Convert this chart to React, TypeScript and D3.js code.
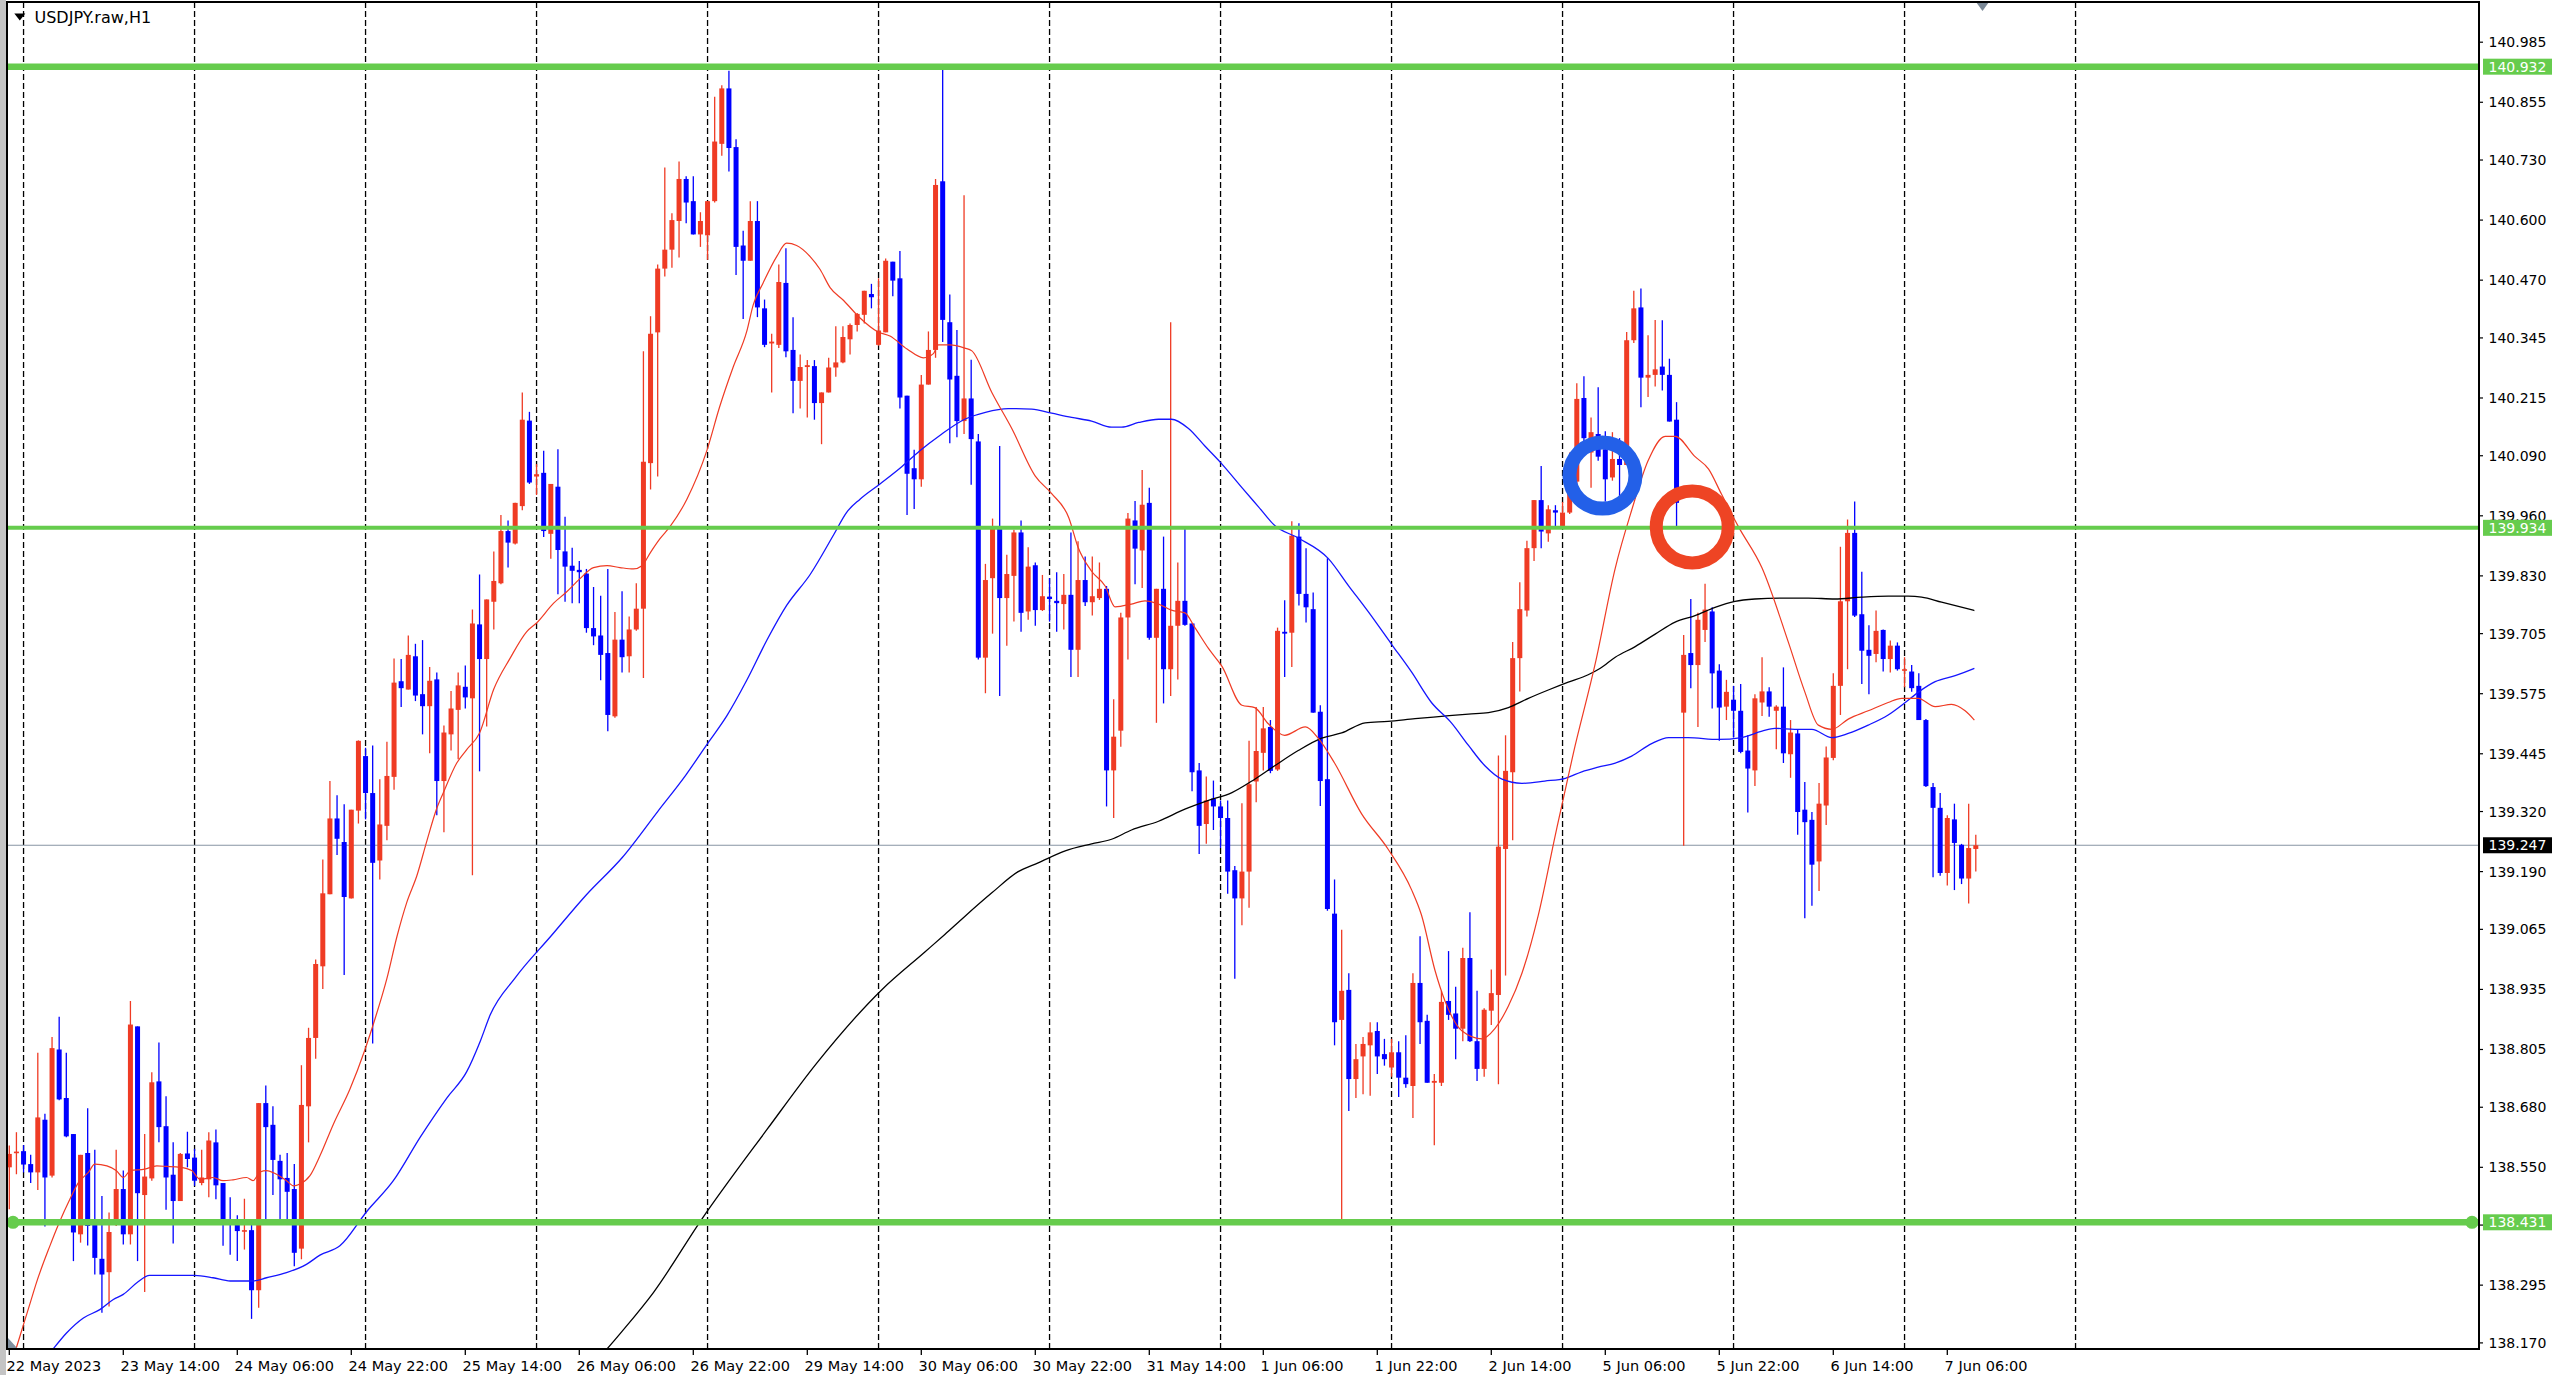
import React, { useMemo } from 'react';
import * as d3 from 'd3';

// USDJPY H1 bars, first bar = 22 May 2023 22:00
const opens = [
  138.550, 138.581, 138.585, 138.557, 138.539, 138.653, 138.532, 138.805, 138.700, 138.622,
  138.405, 138.581, 138.427, 138.352, 138.323, 138.430, 138.503, 138.405, 138.855, 138.490,
  138.526, 138.736, 138.639, 138.534, 138.477, 138.580, 138.571, 138.516, 138.524, 138.604,
  138.516, 138.438, 138.436, 138.412, 138.414, 138.284, 138.689, 138.642, 138.564, 138.527,
  138.503, 138.374, 138.682, 138.830, 138.985, 139.141, 139.305, 139.254, 139.132, 139.322,
  139.440, 139.360, 139.214, 139.289, 139.395, 139.602, 139.584, 139.656, 139.574, 139.548,
  139.606, 139.386, 139.487, 139.540, 139.590, 139.565, 139.725, 139.650, 139.774, 139.814,
  139.927, 139.900, 139.981, 140.166, 140.045, 140.053, 139.921, 140.023, 139.883, 139.852,
  139.843, 139.835, 139.717, 139.701, 139.663, 139.526, 139.692, 139.656, 139.714, 139.759,
  140.074, 140.357, 140.495, 140.536, 140.598, 140.689, 140.641, 140.569, 140.567, 140.641,
  140.765, 140.885, 140.758, 140.545, 140.512, 140.598, 140.409, 140.333, 140.330, 140.464,
  140.319, 140.252, 140.282, 140.284, 140.204, 140.227, 140.281, 140.292, 140.342, 140.373,
  140.395, 140.440, 140.330, 140.357, 140.510, 140.474, 140.220, 140.063, 140.039, 140.244,
  140.319, 140.684, 140.379, 140.263, 140.165, 140.214, 140.121, 139.653, 139.825, 139.933,
  139.782, 139.830, 139.924, 139.753, 139.853, 139.756, 139.785, 139.776, 139.769, 139.789,
  139.670, 139.821, 139.773, 139.782, 139.802, 139.409, 139.495, 139.740, 139.950, 139.885,
  139.988, 139.696, 139.802, 139.628, 139.722, 139.776, 139.727, 139.409, 139.293, 139.348,
  139.331, 139.306, 139.193, 139.132, 139.190, 139.385, 139.447, 139.503, 139.411, 139.709,
  139.707, 139.915, 139.791, 139.758, 139.536, 139.390, 139.099, 138.869, 138.934, 138.741,
  138.790, 138.814, 138.845, 138.795, 138.766, 138.799, 138.744, 138.726, 138.949, 138.867,
  138.733, 138.733, 138.910, 138.883, 138.850, 139.003, 138.823, 138.763, 138.889, 138.923,
  139.239, 139.405, 139.652, 139.755, 139.890, 139.994, 139.922, 139.972, 139.938, 139.967,
  140.034, 140.215, 140.097, 140.137, 140.104, 140.043, 140.083, 140.070, 140.340, 140.411,
  140.259, 140.265, 140.283, 140.265, 140.168, 139.534, 139.663, 139.637, 139.713, 139.753,
  139.625, 139.547, 139.562, 139.538, 139.452, 139.409, 139.556, 139.580, 139.538, 139.547,
  139.444, 139.489, 139.324, 139.302, 139.212, 139.333, 139.436, 139.592, 139.775, 139.923,
  139.747, 139.670, 139.661, 139.713, 139.650, 139.679, 139.625, 139.623, 139.592, 139.518,
  139.373, 139.328, 139.187, 139.303, 139.248, 139.175, 139.239,
];

const highs = [
  138.597, 138.626, 138.598, 138.577, 138.798, 138.666, 138.832, 138.876, 138.798, 138.622,
  138.577, 138.678, 138.588, 138.488, 138.452, 138.588, 138.543, 138.910, 138.855, 138.622,
  138.756, 138.820, 138.704, 138.604, 138.581, 138.627, 138.590, 138.588, 138.626, 138.632,
  138.516, 138.485, 138.446, 138.482, 138.438, 138.689, 138.727, 138.682, 138.577, 138.581,
  138.557, 138.771, 138.852, 139.000, 139.216, 139.386, 139.355, 139.336, 139.324, 139.474,
  139.458, 139.463, 139.390, 139.471, 139.651, 139.650, 139.701, 139.683, 139.691, 139.633,
  139.621, 139.506, 139.581, 139.621, 139.636, 139.757, 139.833, 139.779, 139.883, 139.962,
  139.950, 139.988, 140.227, 140.185, 140.072, 140.101, 140.029, 140.104, 139.958, 139.891,
  139.862, 139.845, 139.806, 139.787, 139.845, 139.752, 139.797, 139.742, 139.814, 140.316,
  140.392, 140.504, 140.714, 140.615, 140.727, 140.695, 140.695, 140.617, 140.641, 140.867,
  140.892, 140.923, 140.775, 140.577, 140.641, 140.641, 140.428, 140.354, 140.504, 140.539,
  140.390, 140.309, 140.297, 140.297, 140.227, 140.302, 140.370, 140.370, 140.376, 140.399,
  140.447, 140.462, 140.474, 140.517, 140.510, 140.533, 140.220, 140.103, 140.265, 140.359,
  140.689, 140.938, 140.439, 140.362, 140.654, 140.298, 140.137, 139.856, 139.954, 140.111,
  139.876, 139.930, 139.950, 139.892, 139.859, 139.832, 139.825, 139.838, 139.834, 139.924,
  139.905, 139.872, 139.872, 139.859, 139.808, 139.563, 139.750, 139.966, 139.992, 140.059,
  140.021, 139.802, 139.915, 140.379, 139.859, 139.936, 139.727, 139.425, 139.396, 139.387,
  139.344, 139.344, 139.202, 139.338, 139.473, 139.546, 139.546, 139.518, 139.718, 139.777,
  139.948, 139.944, 139.890, 139.794, 139.550, 139.868, 139.173, 139.064, 138.970, 138.817,
  138.832, 138.864, 138.864, 138.828, 138.828, 138.823, 138.836, 138.970, 139.050, 138.880,
  138.752, 138.932, 139.018, 138.941, 139.025, 139.102, 138.932, 138.894, 138.978, 139.441,
  139.485, 139.687, 139.816, 139.906, 139.994, 140.068, 139.983, 139.983, 139.990, 140.097,
  140.247, 140.262, 140.173, 140.238, 140.143, 140.141, 140.128, 140.358, 140.447, 140.452,
  140.351, 140.384, 140.383, 140.300, 140.206, 139.702, 139.780, 139.750, 139.813, 139.762,
  139.639, 139.605, 139.592, 139.596, 139.485, 139.574, 139.654, 139.589, 139.550, 139.632,
  139.518, 139.498, 139.384, 139.319, 139.382, 139.461, 139.619, 139.893, 139.952, 139.991,
  139.839, 139.723, 139.755, 139.714, 139.690, 139.686, 139.654, 139.637, 139.619, 139.520,
  139.382, 139.360, 139.312, 139.337, 139.250, 139.337, 139.270,
];

const lows = [
  138.459, 138.535, 138.539, 138.516, 138.501, 138.422, 138.528, 138.695, 138.615, 138.347,
  138.387, 138.381, 138.318, 138.235, 138.249, 138.423, 138.383, 138.383, 138.347, 138.280,
  138.521, 138.604, 138.458, 138.385, 138.477, 138.550, 138.510, 138.511, 138.485, 138.481,
  138.380, 138.361, 138.347, 138.372, 138.222, 138.246, 138.438, 138.490, 138.430, 138.430,
  138.336, 138.351, 138.604, 138.785, 138.936, 139.141, 139.226, 138.966, 139.132, 139.294,
  139.303, 138.818, 139.173, 139.258, 139.367, 139.546, 139.584, 139.559, 139.487, 139.446,
  139.312, 139.275, 139.452, 139.433, 139.543, 139.182, 139.407, 139.504, 139.714, 139.812,
  139.848, 139.898, 139.972, 140.029, 140.005, 139.914, 139.867, 139.790, 139.774, 139.771,
  139.771, 139.707, 139.680, 139.604, 139.494, 139.523, 139.621, 139.621, 139.711, 139.609,
  140.017, 140.045, 140.478, 140.497, 140.519, 140.593, 140.569, 140.542, 140.514, 140.638,
  140.739, 140.705, 140.481, 140.386, 140.512, 140.390, 140.325, 140.227, 140.323, 140.303,
  140.182, 140.192, 140.173, 140.168, 140.115, 140.227, 140.261, 140.290, 140.309, 140.359,
  140.376, 140.409, 140.328, 140.357, 140.435, 140.192, 139.962, 139.975, 140.023, 140.244,
  140.302, 140.336, 140.117, 140.130, 140.137, 140.027, 139.649, 139.576, 139.705, 139.570,
  139.679, 139.731, 139.709, 139.735, 139.722, 139.754, 139.731, 139.709, 139.714, 139.611,
  139.611, 139.765, 139.744, 139.778, 139.331, 139.306, 139.460, 139.649, 139.812, 139.804,
  139.692, 139.512, 139.554, 139.570, 139.606, 139.722, 139.364, 139.228, 139.250, 139.280,
  139.241, 139.142, 138.958, 139.074, 139.112, 139.340, 139.409, 139.403, 139.408, 139.611,
  139.633, 139.766, 139.729, 139.534, 139.332, 139.105, 138.814, 138.429, 138.672, 138.700,
  138.708, 138.705, 138.752, 138.770, 138.746, 138.702, 138.722, 138.657, 138.817, 138.733,
  138.598, 138.726, 138.869, 138.784, 138.823, 138.821, 138.737, 138.746, 138.858, 138.730,
  138.965, 139.258, 139.580, 139.742, 139.862, 139.890, 139.904, 139.933, 139.935, 139.964,
  140.018, 140.106, 140.021, 140.079, 139.991, 140.036, 140.003, 140.070, 140.334, 140.195,
  140.217, 140.240, 140.231, 140.164, 139.936, 139.246, 139.587, 139.503, 139.687, 139.543,
  139.473, 139.518, 139.480, 139.446, 139.318, 139.375, 139.527, 139.525, 139.455, 139.425,
  139.393, 139.270, 139.089, 139.116, 139.148, 139.291, 139.431, 139.529, 139.628, 139.741,
  139.596, 139.574, 139.643, 139.623, 139.621, 139.625, 139.589, 139.579, 139.518, 139.373,
  139.178, 139.181, 139.160, 139.150, 139.163, 139.121, 139.190,
];

const closes = [
  138.579, 138.584, 138.556, 138.539, 138.658, 138.528, 138.808, 138.697, 138.617, 138.409,
  138.577, 138.423, 138.354, 138.318, 138.410, 138.503, 138.405, 138.859, 138.494, 138.530,
  138.734, 138.637, 138.528, 138.477, 138.579, 138.568, 138.521, 138.528, 138.608, 138.511,
  138.434, 138.432, 138.412, 138.414, 138.284, 138.689, 138.637, 138.566, 138.524, 138.497,
  138.365, 138.685, 138.830, 138.990, 139.143, 139.305, 139.261, 139.135, 139.324, 139.473,
  139.360, 139.209, 139.292, 139.397, 139.599, 139.587, 139.659, 139.571, 139.548, 139.603,
  139.386, 139.491, 139.543, 139.593, 139.567, 139.727, 139.650, 139.779, 139.819, 139.927,
  139.902, 139.988, 140.168, 140.032, 140.050, 139.927, 140.029, 139.886, 139.850, 139.841,
  139.838, 139.717, 139.699, 139.659, 139.529, 139.692, 139.654, 139.714, 139.759, 140.077,
  140.354, 140.495, 140.536, 140.600, 140.689, 140.638, 140.569, 140.598, 140.641, 140.770,
  140.885, 140.756, 140.542, 140.512, 140.598, 140.411, 140.330, 140.337, 140.466, 140.316,
  140.252, 140.282, 140.286, 140.204, 140.227, 140.281, 140.292, 140.347, 140.373, 140.397,
  140.447, 140.433, 140.361, 140.512, 140.469, 140.216, 140.051, 140.039, 140.244, 140.319,
  140.676, 140.384, 140.255, 140.165, 140.214, 140.126, 139.653, 139.821, 139.933, 139.782,
  139.834, 139.924, 139.750, 139.850, 139.756, 139.786, 139.780, 139.771, 139.789, 139.670,
  139.821, 139.773, 139.786, 139.802, 139.409, 139.482, 139.740, 139.954, 139.889, 139.984,
  139.696, 139.802, 139.628, 139.722, 139.776, 139.724, 139.405, 139.289, 139.344, 139.331,
  139.306, 139.190, 139.132, 139.190, 139.379, 139.451, 139.500, 139.408, 139.711, 139.705,
  139.917, 139.791, 139.762, 139.534, 139.386, 139.109, 138.864, 138.932, 138.741, 138.784,
  138.817, 138.842, 138.790, 138.784, 138.799, 138.744, 138.730, 138.949, 138.864, 138.733,
  138.737, 138.908, 138.880, 138.850, 139.003, 138.823, 138.763, 138.891, 138.927, 139.244,
  139.408, 139.652, 139.758, 139.890, 139.994, 139.926, 139.974, 139.967, 139.967, 140.036,
  140.213, 140.128, 140.141, 140.088, 140.039, 140.083, 140.070, 140.340, 140.409, 140.259,
  140.265, 140.277, 140.265, 140.164, 139.988, 139.659, 139.637, 139.735, 139.757, 139.619,
  139.545, 139.579, 139.538, 139.449, 139.413, 139.565, 139.580, 139.547, 139.547, 139.446,
  139.491, 139.319, 139.297, 139.205, 139.337, 139.437, 139.592, 139.775, 139.923, 139.744,
  139.668, 139.657, 139.711, 139.650, 139.679, 139.628, 139.628, 139.587, 139.518, 139.375,
  139.328, 139.187, 139.306, 139.252, 139.175, 139.241, 139.247,
];

// moving averages: [bar index, price]
const fastMA: [number, number][] = [
  [0, 138.11], [1, 138.16], [2, 138.21], [3, 138.26], [3.8, 138.3], [5.7, 138.38], [7, 138.43],
  [8.5, 138.481], [9.7, 138.517], [11.1, 138.539], [12, 138.557], [13.7, 138.553], [15, 138.543],
  [16, 138.528], [17, 138.543], [19, 138.546], [20.7, 138.553], [22, 138.552], [24, 138.55],
  [25.6, 138.543], [26.8, 138.524], [28.6, 138.528], [30, 138.521], [31.4, 138.523], [33.3, 138.528],
  [34.2, 138.521], [35.2, 138.54], [36.1, 138.543], [37.5, 138.535], [38.9, 138.521], [39.9, 138.51],
  [40.8, 138.514], [42.2, 138.532], [43.6, 138.575], [45.5, 138.644], [47.8, 138.719], [49.9, 138.804],
  [51.3, 138.87], [53, 138.959], [54.4, 139.049], [55.8, 139.124], [57.2, 139.181], [58.6, 139.256],
  [60, 139.327], [60.9, 139.36], [62.8, 139.425], [64.2, 139.454], [66, 139.49], [68, 139.585],
  [70.3, 139.652], [72.6, 139.709], [74, 139.728], [76.4, 139.771], [78.2, 139.795], [80.1, 139.824],
  [82, 139.848], [83.9, 139.852], [85.7, 139.848], [87.6, 139.845], [88.8, 139.852], [90, 139.881],
  [91.3, 139.91], [92.8, 139.938], [95.1, 139.996], [97.9, 140.101], [99.7, 140.196], [101.6, 140.282],
  [103.5, 140.359], [104.4, 140.416], [105.8, 140.464], [107.7, 140.521], [109.1, 140.55],
  [110.5, 140.545], [112.4, 140.521], [113.8, 140.493], [115.2, 140.454], [117.1, 140.426],
  [119.4, 140.388], [121.8, 140.359], [123.6, 140.349], [126, 140.321], [128.3, 140.302],
  [129.7, 140.311], [130.4, 140.33], [132, 140.33], [134.1, 140.323], [135.1, 140.317],
  [137.9, 140.227], [140.7, 140.149], [144, 140.046], [146.3, 140.008], [148.7, 139.956],
  [150, 139.892], [151.9, 139.84], [153.8, 139.808], [155.2, 139.763], [157.5, 139.769],
  [159.4, 139.776], [161.3, 139.769], [163.1, 139.756], [165, 139.75], [166.4, 139.718],
  [168.3, 139.673], [170.2, 139.634], [173, 139.55], [174.8, 139.545], [176.7, 139.51],
  [179, 139.485], [181.9, 139.503], [183.7, 139.479], [186, 139.425], [189.8, 139.315],
  [193.5, 139.239], [196.8, 139.151], [198.2, 139.096], [200.1, 138.976], [201.5, 138.91],
  [203.9, 138.845], [206.7, 138.828], [208.5, 138.85], [210.4, 138.899], [212.3, 138.97],
  [214.6, 139.096], [217, 139.27], [219.5, 139.445], [222.6, 139.641], [225.4, 139.847],
  [227.7, 139.972], [230, 140.079], [232.4, 140.132], [233.8, 140.132], [236.6, 140.088],
  [238.5, 140.061], [240.3, 140.007], [242.7, 139.936], [246, 139.847], [249.7, 139.686],
  [252, 139.579], [253.9, 139.507], [255.8, 139.498], [258.1, 139.52], [260.9, 139.538],
  [263.7, 139.556], [265.6, 139.565], [267.9, 139.565], [270.3, 139.547], [272.6, 139.552],
  [274.5, 139.538], [275.8, 139.518],
];

const midMA: [number, number][] = [
  [4, 138.115], [5.9, 138.152], [8, 138.191], [10.4, 138.224], [12.7, 138.242], [14.6, 138.264],
  [16, 138.275], [17.9, 138.3], [19.7, 138.316], [23, 138.316], [26, 138.316], [28.6, 138.311],
  [31, 138.304], [34.2, 138.304], [36.1, 138.311], [38.9, 138.322], [41.7, 138.34], [43.6, 138.36],
  [46.4, 138.38], [50.2, 138.455], [53.9, 138.521], [57.7, 138.616], [61.4, 138.7], [64.2, 138.757],
  [66.1, 138.823], [67.5, 138.88], [71, 138.96], [76, 139.05], [81, 139.14], [86, 139.22],
  [91, 139.32], [95, 139.4], [97.9, 139.465], [100.7, 139.527], [103.5, 139.604], [106.3, 139.69],
  [109.1, 139.766], [112.4, 139.833], [115.7, 139.919], [117.5, 139.967], [119.4, 139.996],
  [122.2, 140.029], [125, 140.063], [127.8, 140.101], [130.6, 140.134], [134.1, 140.169],
  [137, 140.184], [140.2, 140.192], [143.5, 140.191], [146.3, 140.182], [149.1, 140.173],
  [151.9, 140.165], [154.7, 140.152], [156.1, 140.152], [158.5, 140.162], [161.3, 140.169],
  [163.1, 140.169], [165.5, 140.149], [167.8, 140.111], [170.2, 140.072], [173, 140.021],
  [175.3, 139.98], [177.6, 139.939], [180.9, 139.912], [185.1, 139.868], [188, 139.808],
  [190.7, 139.753], [194, 139.682], [196.8, 139.622], [199.6, 139.556], [202.4, 139.512],
  [204.8, 139.463], [207.1, 139.419], [209.5, 139.39], [212.3, 139.381], [215.5, 139.386],
  [218.4, 139.392], [220.7, 139.406], [223, 139.416], [225.4, 139.425], [227.7, 139.44],
  [230.5, 139.467], [232.9, 139.48], [235.6, 139.48], [239.9, 139.476], [243.1, 139.48],
  [246, 139.494], [247.8, 139.5], [250.6, 139.498], [253, 139.498], [255.8, 139.48],
  [258.1, 139.489], [260.9, 139.507], [263.7, 139.529], [266.1, 139.556], [268, 139.579],
  [270.3, 139.601], [273.1, 139.614], [275.8, 139.63],
];

const slowMA: [number, number][] = [
  [80, 138.09], [83.5, 138.15], [86, 138.195], [90.4, 138.279], [97.2, 138.438], [106.4, 138.633],
  [113.3, 138.775], [122.5, 138.935], [128.5, 139.016], [131.3, 139.054], [134.1, 139.093],
  [137.9, 139.144], [141.6, 139.19], [144.4, 139.209], [148.2, 139.235], [151.9, 139.25],
  [154.7, 139.26], [157.5, 139.28], [161.3, 139.299], [165, 139.325], [168.3, 139.344],
  [171.6, 139.361], [174.8, 139.39], [177.6, 139.419], [180.9, 139.452], [184.2, 139.479],
  [187, 139.49], [190.3, 139.512], [193.5, 139.515], [197.3, 139.521], [201, 139.526],
  [204.8, 139.531], [207.6, 139.534], [210.4, 139.545], [213.2, 139.565], [216, 139.583],
  [218.8, 139.6], [221.6, 139.616], [223.3, 139.63], [225.4, 139.654], [228.2, 139.677],
  [231, 139.704], [233.8, 139.73], [236.6, 139.744], [239.4, 139.762], [242.2, 139.775],
  [245, 139.78], [248.8, 139.782], [252.5, 139.782], [256.2, 139.78], [260, 139.784],
  [263.7, 139.786], [266.5, 139.786], [268.4, 139.784], [271.2, 139.773], [275.8, 139.755],
];

const timeLabels = [
  '22 May 2023', '23 May 14:00', '24 May 06:00', '24 May 22:00', '25 May 14:00', '26 May 06:00',
  '26 May 22:00', '29 May 14:00', '30 May 06:00', '30 May 22:00', '31 May 14:00', '1 Jun 06:00',
  '1 Jun 22:00', '2 Jun 14:00', '5 Jun 06:00', '5 Jun 22:00', '6 Jun 14:00', '7 Jun 06:00',
];
const timeLabelBars = [0, 16, 32, 48, 64, 80, 96, 112, 128, 144, 160, 176, 192, 208, 224, 240, 256, 272];
const dayStartBars = [2, 26, 50, 74, 98, 122, 146, 170, 194, 218, 242, 266, 290];

const priceTicks = [
  '140.985', '140.855', '140.730', '140.600', '140.470', '140.345', '140.215', '140.090',
  '139.960', '139.830', '139.705', '139.575', '139.445', '139.320', '139.190', '139.065',
  '138.935', '138.805', '138.680', '138.550', '138.425', '138.295', '138.170',
];

const levels = [140.932, 139.934, 138.431];
const levelWidths = [6.5, 4, 6.5];
const lastPrice = 139.247;

// hand-drawn marks: [bar index, price]
const blueRing: [number, number] = [223.6, 140.047];
const redRing: [number, number] = [236.2, 139.936];

const W = 2560;
const H = 1375;
const L = 7;
const T = 2;
const R = 2479;
const B = 1349;

const UP = '#ef3b24';
const DOWN = '#0000ff';
const GREEN = '#66cc4d';
const FONT = 'DejaVu Sans';

export default function App() {
  const x = useMemo(() => d3.scaleLinear().domain([0, 276]).range([9.3, 9.3 + 7.125 * 276]), []);
  const y = useMemo(() => d3.scaleLinear().domain([140.985, 138.17]).range([42.2, 1342.9]), []);

  const line = d3.line<[number, number]>()
    .x((d) => x(d[0]))
    .y((d) => y(d[1]))
    .curve(d3.curveMonotoneX);

  const bodyW = 5;

  return (
    <svg
      width={W}
      height={H}
      viewBox={`0 0 ${W} ${H}`}
      style={{ position: 'fixed', left: 0, top: 0, background: '#fff' }}
      fontFamily={FONT}
    >
      <defs>
        <clipPath id="plot">
          <rect x={L} y={T} width={R - L} height={B - T} />
        </clipPath>
      </defs>
      <rect x={0} y={0} width={W} height={H} fill="#fff" />
      <rect x={0} y={0} width={L - 1} height={H} fill="#c4c4c4" />

      <g clipPath="url(#plot)">
        {dayStartBars.map((b) => (
          <line key={b} x1={x(b)} x2={x(b)} y1={T} y2={B} stroke="#000" strokeWidth={1.3} strokeDasharray="6,3" />
        ))}

        <line x1={L} x2={R} y1={y(lastPrice)} y2={y(lastPrice)} stroke="#8795a3" strokeWidth={1.2} />

        {opens.map((o, i) => {
          const c = closes[i];
          const color = c > o ? UP : DOWN;
          const cx = x(i);
          const top = y(Math.max(o, c));
          const h = Math.max(1.6, Math.abs(y(o) - y(c)));
          return (
            <g key={i}>
              <line x1={cx} x2={cx} y1={y(highs[i])} y2={y(lows[i])} stroke={color} strokeWidth={1.3} />
              <rect x={cx - bodyW / 2} y={top} width={bodyW} height={h} fill={color} />
            </g>
          );
        })}

        <path d={line(slowMA) ?? ''} fill="none" stroke="#000" strokeWidth={1.3} />
        <path d={line(midMA) ?? ''} fill="none" stroke="#1515ff" strokeWidth={1.3} />
        <path d={line(fastMA) ?? ''} fill="none" stroke={UP} strokeWidth={1.2} />

        {levels.map((p, i) => (
          <line key={p} x1={L} x2={R} y1={y(p)} y2={y(p)} stroke={GREEN} strokeWidth={levelWidths[i]} />
        ))}
        <circle cx={13} cy={y(levels[2])} r={6.5} fill={GREEN} />
        <circle cx={R - 7} cy={y(levels[2])} r={6.5} fill={GREEN} />

        <circle cx={x(blueRing[0])} cy={y(blueRing[1])} r={33} fill="none" stroke="#2360e8" strokeWidth={14} />
        <circle cx={x(redRing[0])} cy={y(redRing[1])} r={36} fill="none" stroke="#ee4424" strokeWidth={13} />

        <path d={`M${L + 1},${B - 11} L${L + 1},${B} L${L + 11},${B} Z`} fill="#8090a0" />
        <path d={`M1976,${T} L1989,${T} L1982.5,11 Z`} fill="#7a8896" />
      </g>

      <rect x={L} y={T} width={R - L} height={B - T} fill="none" stroke="#000" strokeWidth={2} />

      {/* title */}
      <path d="M14.3,13.5 L25.3,13.5 L19.8,20.5 Z" fill="#000" />
      <text x={34.5} y={22.5} fontSize={16} fill="#000">USDJPY.raw,H1</text>

      {/* price axis */}
      {priceTicks.map((t) => {
        const py = y(+t);
        return (
          <g key={t}>
            <line x1={R} x2={R + 4} y1={py} y2={py} stroke="#000" strokeWidth={1.2} />
            <text x={2488.5} y={py + 5} fontSize={14} fill="#000">{t}</text>
          </g>
        );
      })}
      {levels.map((p) => (
        <g key={p}>
          <rect x={2483} y={y(p) - 8} width={69} height={16} fill={GREEN} />
          <text x={2488.5} y={y(p) + 5} fontSize={14} fill="#fff">{p.toFixed(3)}</text>
        </g>
      ))}
      <rect x={2483} y={y(lastPrice) - 8} width={69} height={16} fill="#000" />
      <text x={2488.5} y={y(lastPrice) + 5} fontSize={14} fill="#fff">{lastPrice.toFixed(3)}</text>

      {/* time axis */}
      {timeLabelBars.map((b, i) => (
        <g key={b}>
          <line x1={x(b)} x2={x(b)} y1={B} y2={B + 6} stroke="#000" strokeWidth={1.3} />
          <text x={x(b) - 2.7} y={1371} fontSize={14.5} fill="#000">{timeLabels[i]}</text>
        </g>
      ))}
    </svg>
  );
}
